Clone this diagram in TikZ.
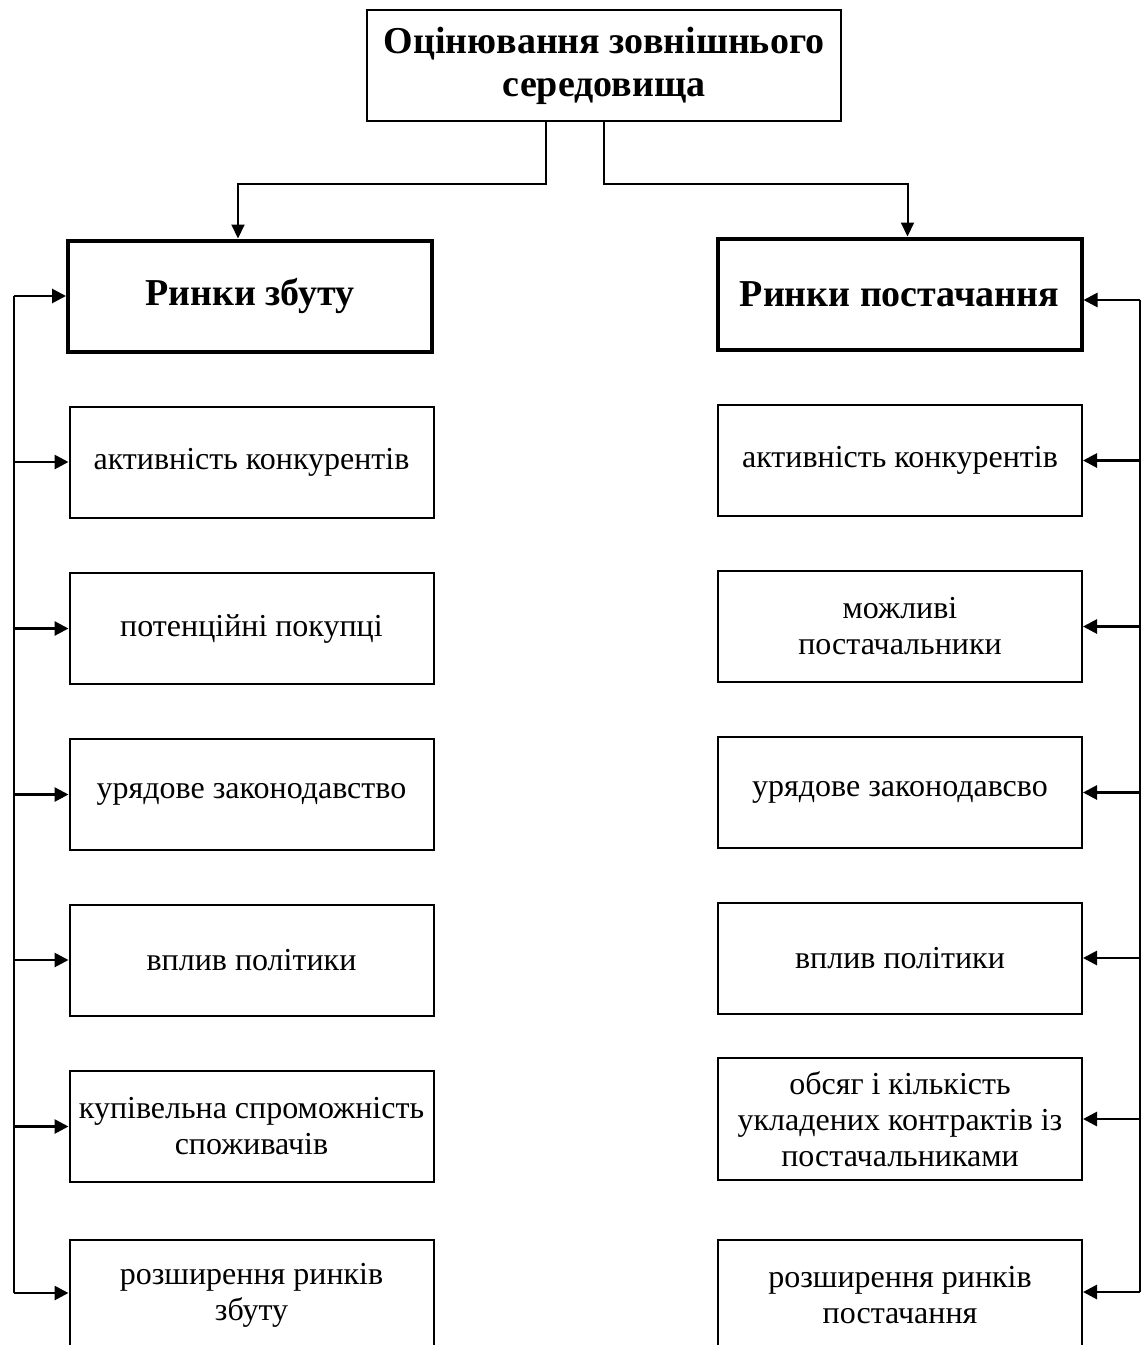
\documentclass[tikz,border=0pt]{standalone}
\usepackage{fontspec}
\setmainfont{Liberation Serif}
\usetikzlibrary{positioning}
\usetikzlibrary{calc}
\usetikzlibrary{arrows.meta}
\tikzstyle{box} = [rectangle, draw=black, line width=1pt, minimum width=182pt, minimum height=55.5pt, align=center, inner sep=2pt, font=\fontsize{16}{18}\selectfont]
\tikzstyle{headbox} = [box, line width=2pt, font=\fontsize{19}{21.5}\selectfont\bfseries]
\tikzstyle{arrow} = [line width=1pt,-{Triangle[length=7pt,width=6.5pt]}]
\tikzstyle{sidearrow} = [line width=1.4pt,-{Triangle[length=7pt,width=7pt]}]

\begin{document}
\begin{tikzpicture}[x=0.5pt,y=-0.5pt]
\useasboundingbox (0,0) rectangle (1146,1345);
\clip (0,0) rectangle (1146,1345);
\draw (604,65.5) node (top) [box, minimum width=237pt, font=\fontsize{19}{21.5}\selectfont\bfseries] {Оцінювання зовнішнього\\середовища};
\draw (250,296) node (hl) [headbox] {Ринки збуту};
\draw (899.5,294) node (hr) [headbox] {Ринки постачання};
% ліва колонка
\draw (251.5,462) node (l1) [box] {активність конкурентів};
\draw (251.5,628.5) node (l2) [box] {потенційні покупці};
\draw (251.5,794.5) node (l3) [box] {урядове законодавство};
\draw (251.5,960) node (l4) [box] {вплив політики};
\draw (251.5,1126.5) node (l5) [box] {купівельна спроможність\\споживачів};
\draw (251.5,1295) node (l6) [box] {розширення ринків\\збуту};
% права колонка
\draw (900,460.5) node (r1) [box] {активність конкурентів};
\draw (900,626.5) node (r2) [box] {можливі\\постачальники};
\draw (900,792.5) node (r3) [box] {урядове законодавсво};
\draw (900,958) node (r4) [box] {вплив політики};
\draw (900,1119) node (r5) [box, minimum height=61pt] {обсяг і кількість\\укладених контрактів із\\постачальниками};
\draw (900,1295) node (r6) [box] {розширення ринків\\постачання};
% від верхнього блоку
\draw[arrow] ([xshift=-29pt]top.south) -- ++(0,62) -| ([xshift=-6pt]hl.north);
\draw[arrow] (top.south) -- ++(0,62) -| ([xshift=4pt]hr.north);
% ліва шина
\coordinate (lt) at (14,296);
\coordinate (lb) at (14,1293);
\draw[line width=1pt] (lt) -- (lb);
\draw[sidearrow] (lt) -- (hl.west);
\draw[sidearrow] (l1.west -| lt) -- (l1.west);
\draw[sidearrow] (l2.west -| lt) -- (l2.west);
\draw[sidearrow] (l3.west -| lt) -- (l3.west);
\draw[sidearrow] (l4.west -| lt) -- (l4.west);
\draw[sidearrow] (l5.west -| lt) -- (l5.west);
\draw[sidearrow] (lb) -- (lb -| l6.west);
% права шина
\coordinate (rt) at (1140,300);
\coordinate (rb) at (1140,1292);
\draw[line width=1pt] (rt) -- (rb);
\draw[sidearrow] (rt) -- (rt -| hr.east);
\draw[sidearrow] (r1.east -| rt) -- (r1.east);
\draw[sidearrow] (r2.east -| rt) -- (r2.east);
\draw[sidearrow] (r3.east -| rt) -- (r3.east);
\draw[sidearrow] (r4.east -| rt) -- (r4.east);
\draw[sidearrow] (r5.east -| rt) -- (r5.east);
\draw[sidearrow] (rb) -- (rb -| r6.east);
\end{tikzpicture}
\end{document}
